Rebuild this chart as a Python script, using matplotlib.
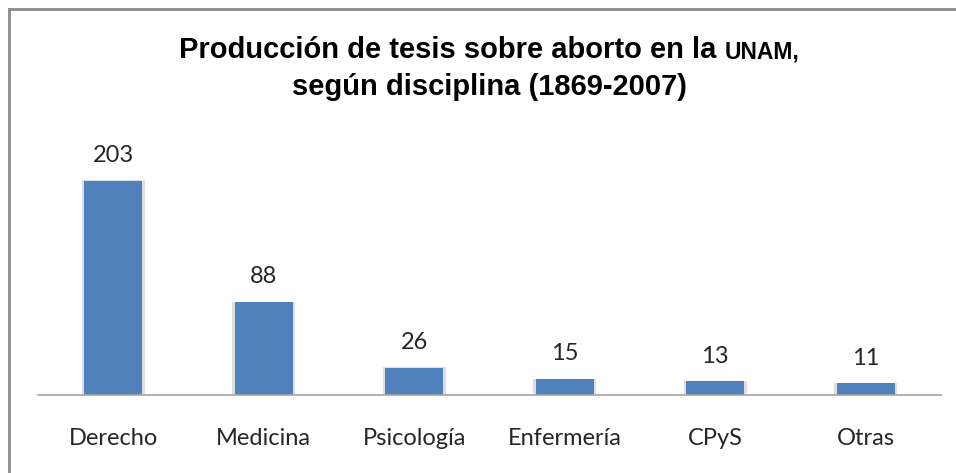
import matplotlib.pyplot as plt
from matplotlib.lines import Line2D

disciplinas = ['Derecho', 'Medicina', 'Psicología', 'Enfermería', 'CPyS', 'Otras']
tesis = [203, 88, 26, 15, 13, 11]

W, H = 956, 473
fig = plt.figure(figsize=(W / 100, H / 100), dpi=100)
ax = fig.add_axes([38 / W, 1 - 395 / H, (941 - 38) / W, 263.5 / H])

x = range(len(disciplinas))
# soft shadow behind the bars
ax.bar(x, [v + 0.6 for v in tesis], width=0.42, color='#dedede', zorder=1)
ax.bar(x, tesis, width=0.385, color='#4f81bd', zorder=2)

for i, v in enumerate(tesis):
    ax.text(i, v + 24, str(v), ha='center', va='center', fontsize=17,
            family='Lato', color='#262626')

ax.set_xlim(-0.5, len(disciplinas) - 0.5)
ax.set_ylim(0, 250)
ax.set_yticks([])
ax.set_xticks(list(x))
ax.set_xticklabels(disciplinas, fontsize=17, family='Lato', color='#262626')
ax.tick_params(axis='x', length=0, pad=24)
for s in ['top', 'right', 'left']:
    ax.spines[s].set_visible(False)
ax.spines['bottom'].set_color('#a6a6a6')
ax.spines['bottom'].set_linewidth(1.2)

# title with small caps UNAM
t1 = fig.text(0, 0, 'Producción de tesis sobre aborto en la ', fontsize=21,
              fontweight='bold', family='Liberation Sans', va='baseline')
t2 = fig.text(0, 0, 'UNAM,', fontsize=16.5, fontweight='bold',
              family='Liberation Sans', va='baseline')
fig.text(489 / W, 1 - 87 / H, 'según disciplina (1869-2007)', fontsize=21,
         fontweight='bold', family='Liberation Sans', ha='center', va='center')
fig.canvas.draw()
r = fig.canvas.get_renderer()
w1 = t1.get_window_extent(r).width
w2 = t2.get_window_extent(r).width
x0 = 489 - (w1 + w2) / 2
base = 1 - 58 / H
t1.set_position((x0 / W, base))
t2.set_position(((x0 + w1) / W, base))

# chart border (top and left visible)
fig.add_artist(Line2D([9 / W, 1], [1 - 9 / H, 1 - 9 / H], color='#8c8c8c', lw=2))
fig.add_artist(Line2D([9 / W, 9 / W], [0, 1 - 9 / H], color='#8c8c8c', lw=2))

fig.savefig('out.png', dpi=100)
